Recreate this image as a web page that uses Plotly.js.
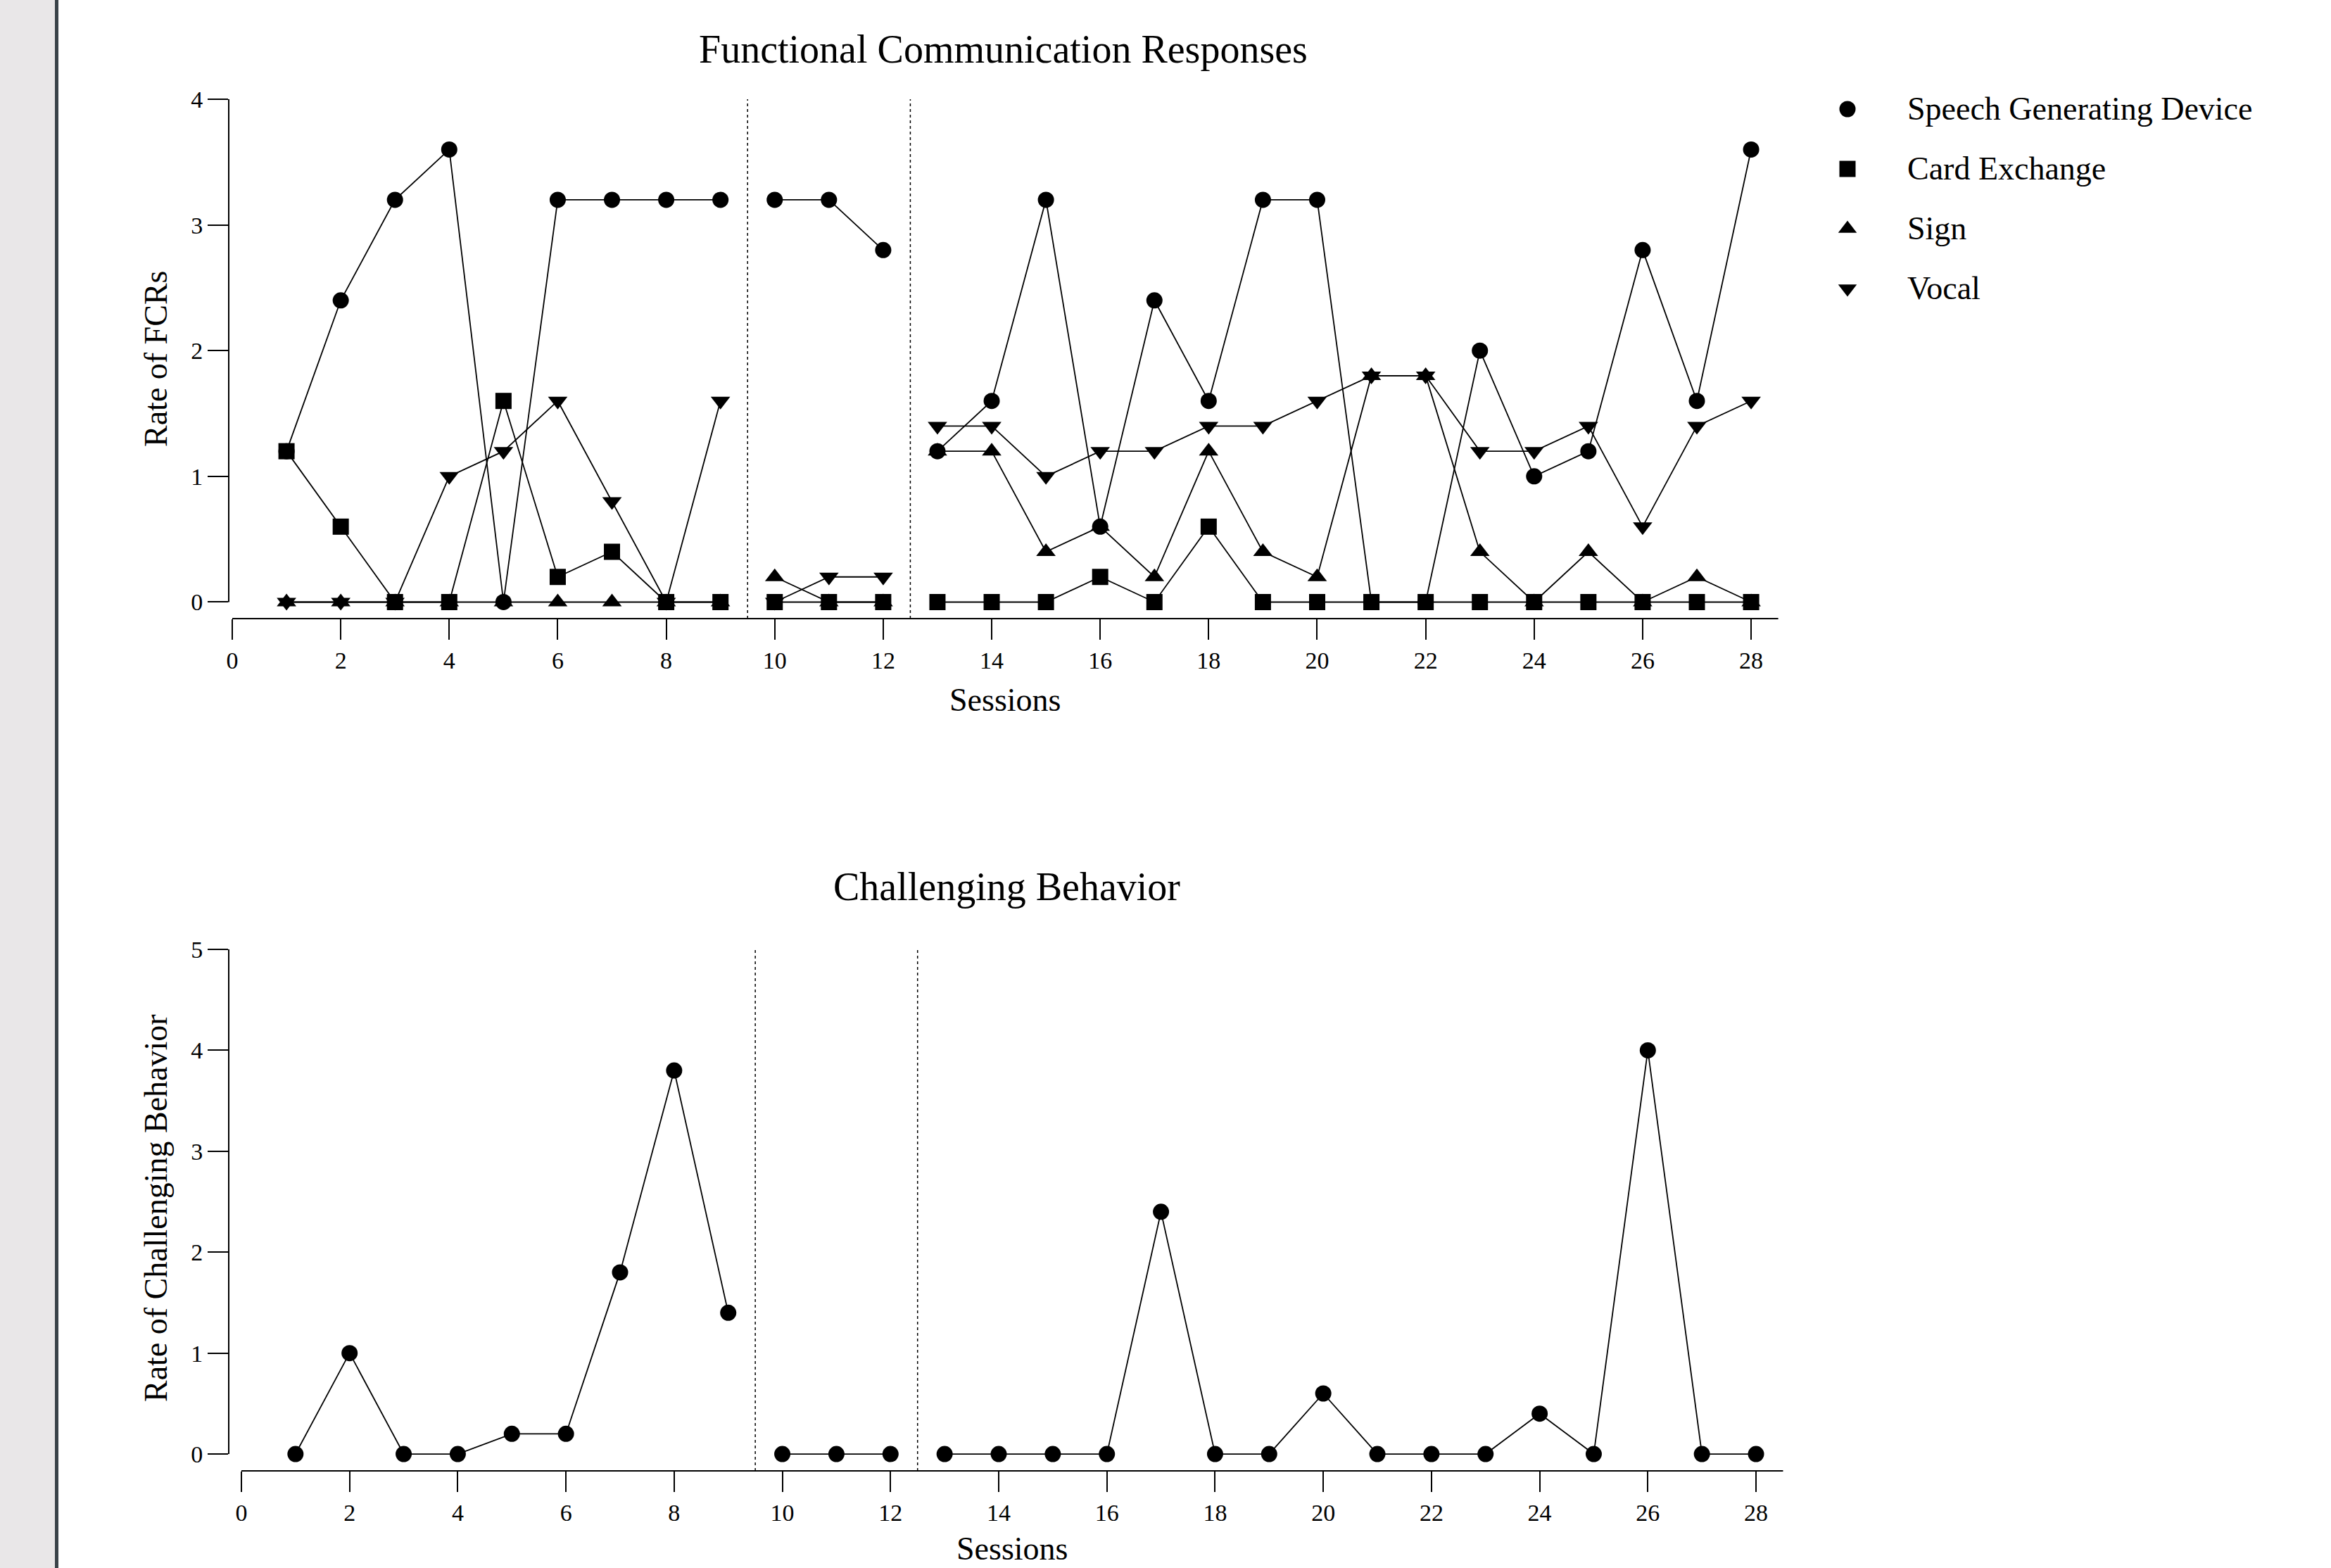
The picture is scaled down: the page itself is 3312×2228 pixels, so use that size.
<!DOCTYPE html>
<html>
<head>
<meta charset="utf-8">
<script src="https://cdn.plot.ly/plotly-3.0.1.min.js"></script>
<style>
  html, body { margin: 0; padding: 0; background: #ffffff; }
  #chart { width: 3312px; height: 2228px; }
</style>
</head>
<body>
<div id="chart"></div>
<script>
// ---------------- DATA ----------------
const sessions = [1,2,3,4,5,6,7,8,9,10,11,12,13,14,15,16,17,18,19,20,21,22,23,24,25,26,27,28];
const phaseChanges = [9.5, 12.5];

const sgd   = [1.2,2.4,3.2,3.6,0,3.2,3.2,3.2,3.2, 3.2,3.2,2.8, 1.2,1.6,3.2,0.6,2.4,1.6,3.2,3.2,0,0,2.0,1.0,1.2,2.8,1.6,3.6];
const card  = [1.2,0.6,0,0,1.6,0.2,0.4,0,0, 0,0,0, 0,0,0,0.2,0,0.6,0,0,0,0,0,0,0,0,0,0];
const sign  = [0,0,0,0,0,0,0,0,0, 0.2,0,0, 1.2,1.2,0.4,0.6,0.2,1.2,0.4,0.2,1.8,1.8,0.4,0,0.4,0,0.2,0];
const vocal = [0,0,0,1.0,1.2,1.6,0.8,0,1.6, 0,0.2,0.2, 1.4,1.4,1.0,1.2,1.2,1.4,1.4,1.6,1.8,1.8,1.2,1.2,1.4,0.6,1.4,1.6];
const challenging = [0,1.0,0,0,0.2,0.2,1.8,3.8,1.4, 0,0,0, 0,0,0,0,2.4,0,0,0.6,0,0,0,0.4,0,4.0,0,0];

const seriesNames   = ["Speech Generating Device", "Card Exchange", "Sign", "Vocal"];
const seriesSymbols = ["circle", "square", "triangle-up", "triangle-down"];
const xTickVals = [0,2,4,6,8,10,12,14,16,18,20,22,24,26,28];
const fcrTickVals = [0,1,2,3,4];
const cbTickVals = [0,1,2,3,4,5];

const topTitle = "Functional Communication Responses";
const bottomTitle = "Challenging Behavior";
const xTitle = "Sessions";
const fcrTitle = "Rate of FCRs";
const cbTitle = "Rate of Challenging Behavior";

// ---------------- HELPERS ----------------
function withBreaks(values) {
  const xs = [], ys = [];
  sessions.forEach((s, i) => {
    xs.push(s); ys.push(values[i]);
    if (phaseChanges.includes(s + 0.5)) { xs.push(null); ys.push(null); }
  });
  return { x: xs, y: ys };
}

const FONT = "Liberation Serif, Times New Roman, serif";
const W = 3312, H = 2228;
const px = v => v / W;
const py = v => 1 - v / H;

function lineTrace(name, values, symbol, size, xa, ya) {
  const d = withBreaks(values);
  return {
    type: "scatter", mode: "lines+markers", name: name,
    x: d.x, y: d.y, xaxis: xa, yaxis: ya,
    connectgaps: false, showlegend: false, cliponaxis: false,
    line: { color: "#000", width: 1.8 },
    marker: { color: "#000", size: size, symbol: symbol, line: { width: 0 } }
  };
}

// drawing order: Vocal, Sign, SGD, Card (card squares on top, as in reference)
const traces = [
  lineTrace(seriesNames[3], vocal, seriesSymbols[3], 24, "x", "y"),
  lineTrace(seriesNames[2], sign,  seriesSymbols[2], 24, "x", "y"),
  lineTrace(seriesNames[0], sgd,   seriesSymbols[0], 23, "x", "y"),
  lineTrace(seriesNames[1], card,  seriesSymbols[1], 23, "x", "y"),
  lineTrace("Challenging Behavior", challenging, "circle", 23, "x2", "y2")
];

// key (legend): markers placed by entry index on a hidden axis pair
const keyIndex = seriesNames.map((_, i) => i);
traces.push({
  type: "scatter", mode: "markers", x: keyIndex.map(() => 0), y: keyIndex,
  xaxis: "x3", yaxis: "y3", showlegend: false, cliponaxis: false, hoverinfo: "skip",
  marker: { color: "#000", size: 23, symbol: seriesSymbols, line: { width: 0 } }
});

function axisCommon() {
  return {
    showgrid: false, zeroline: false, showline: false,
    ticks: "outside", ticklen: 29, tickwidth: 2, tickcolor: "#000",
    tickfont: { family: FONT, size: 34, color: "#000" },
    fixedrange: true
  };
}

const layout = {
  width: W, height: H,
  margin: { l: 0, r: 0, t: 0, b: 0, pad: 0 },
  paper_bgcolor: "#ffffff", plot_bgcolor: "rgba(0,0,0,0)",
  font: { family: FONT, color: "#000" },
  showlegend: false,
  xaxis: Object.assign(axisCommon(), {
    domain: [px(325), px(2527)], range: [-0.065, 28.505],
    tickvals: xTickVals, anchor: "y"
  }),
  yaxis: Object.assign(axisCommon(), {
    domain: [py(879), py(141)], range: [-0.1316, 4],
    tickvals: fcrTickVals, anchor: "x"
  }),
  xaxis2: Object.assign(axisCommon(), {
    domain: [px(325), px(2535)], range: [-0.234, 28.52],
    tickvals: xTickVals, anchor: "y2"
  }),
  yaxis2: Object.assign(axisCommon(), {
    domain: [py(2090), py(1349)], range: [-0.167, 5],
    tickvals: cbTickVals, anchor: "x2"
  }),
  // key area: one unit = gap between symbol centre and label start / row spacing
  xaxis3: { visible: false, domain: [px(2600), px(2800)], range: [-0.2874, 2.0115], anchor: "y3", fixedrange: true },
  yaxis3: { visible: false, domain: [py(452.5), py(112.5)], range: [3.5, -0.5], anchor: "x3", fixedrange: true },
  shapes: [],
  annotations: [
    { text: topTitle, xref: "paper", yref: "paper", x: px(1425), y: py(70), xanchor: "center", yanchor: "middle", showarrow: false, font: { family: FONT, size: 56, color: "#000" } },
    { text: bottomTitle, xref: "paper", yref: "paper", x: px(1430), y: py(1260), xanchor: "center", yanchor: "middle", showarrow: false, font: { family: FONT, size: 56, color: "#000" } },
    { text: xTitle, xref: "paper", yref: "paper", x: px(1428), y: py(995), xanchor: "center", yanchor: "middle", showarrow: false, font: { family: FONT, size: 46, color: "#000" } },
    { text: xTitle, xref: "paper", yref: "paper", x: px(1438), y: 0, xanchor: "center", yanchor: "bottom", showarrow: false, font: { family: FONT, size: 46, color: "#000" } },
    { text: fcrTitle, xref: "paper", yref: "paper", x: px(221), y: py(510), xanchor: "center", yanchor: "middle", textangle: -90, showarrow: false, font: { family: FONT, size: 46, color: "#000" } },
    { text: cbTitle, xref: "paper", yref: "paper", x: px(221), y: py(1717), xanchor: "center", yanchor: "middle", textangle: -90, showarrow: false, font: { family: FONT, size: 46, color: "#000" } }
  ]
};

seriesNames.forEach((name, i) => {
  layout.annotations.push({
    text: name, xref: "x3", yref: "y3", x: 1, y: i, xanchor: "left", yanchor: "middle", xshift: -4,
    showarrow: false, font: { family: FONT, size: 46, color: "#000" }
  });
});

// left window frame (grey panel + dark border)
layout.shapes.push({ type: "rect", xref: "paper", yref: "paper", x0: 0, x1: px(78), y0: 0, y1: 1, fillcolor: "#e9e7e8", line: { width: 0 }, layer: "below" });
layout.shapes.push({ type: "rect", xref: "paper", yref: "paper", x0: px(78), x1: px(83), y0: 0, y1: 1, fillcolor: "#3a4349", line: { width: 0 }, layer: "below" });

// detached axis lines + phase change lines
[["x", "y", 4], ["x2", "y2", 5]].forEach(([xa, ya, ymax]) => {
  layout.shapes.push({ type: "line", xref: xa, yref: ya + " domain", x0: 0, x1: 28.5, y0: 0, y1: 0, line: { color: "#000", width: 2 } });
  layout.shapes.push({ type: "line", xref: xa + " domain", yref: ya, x0: 0, x1: 0, y0: 0, y1: ymax, line: { color: "#000", width: 2 } });
  phaseChanges.forEach(p => {
    layout.shapes.push({ type: "line", xref: xa, yref: ya + " domain", x0: p, x1: p, y0: 0, y1: 1, line: { color: "#000", width: 1.5, dash: "4px,4px" } });
  });
});

Plotly.newPlot("chart", traces, layout, { staticPlot: true, displayModeBar: false });
</script>
</body>
</html>
